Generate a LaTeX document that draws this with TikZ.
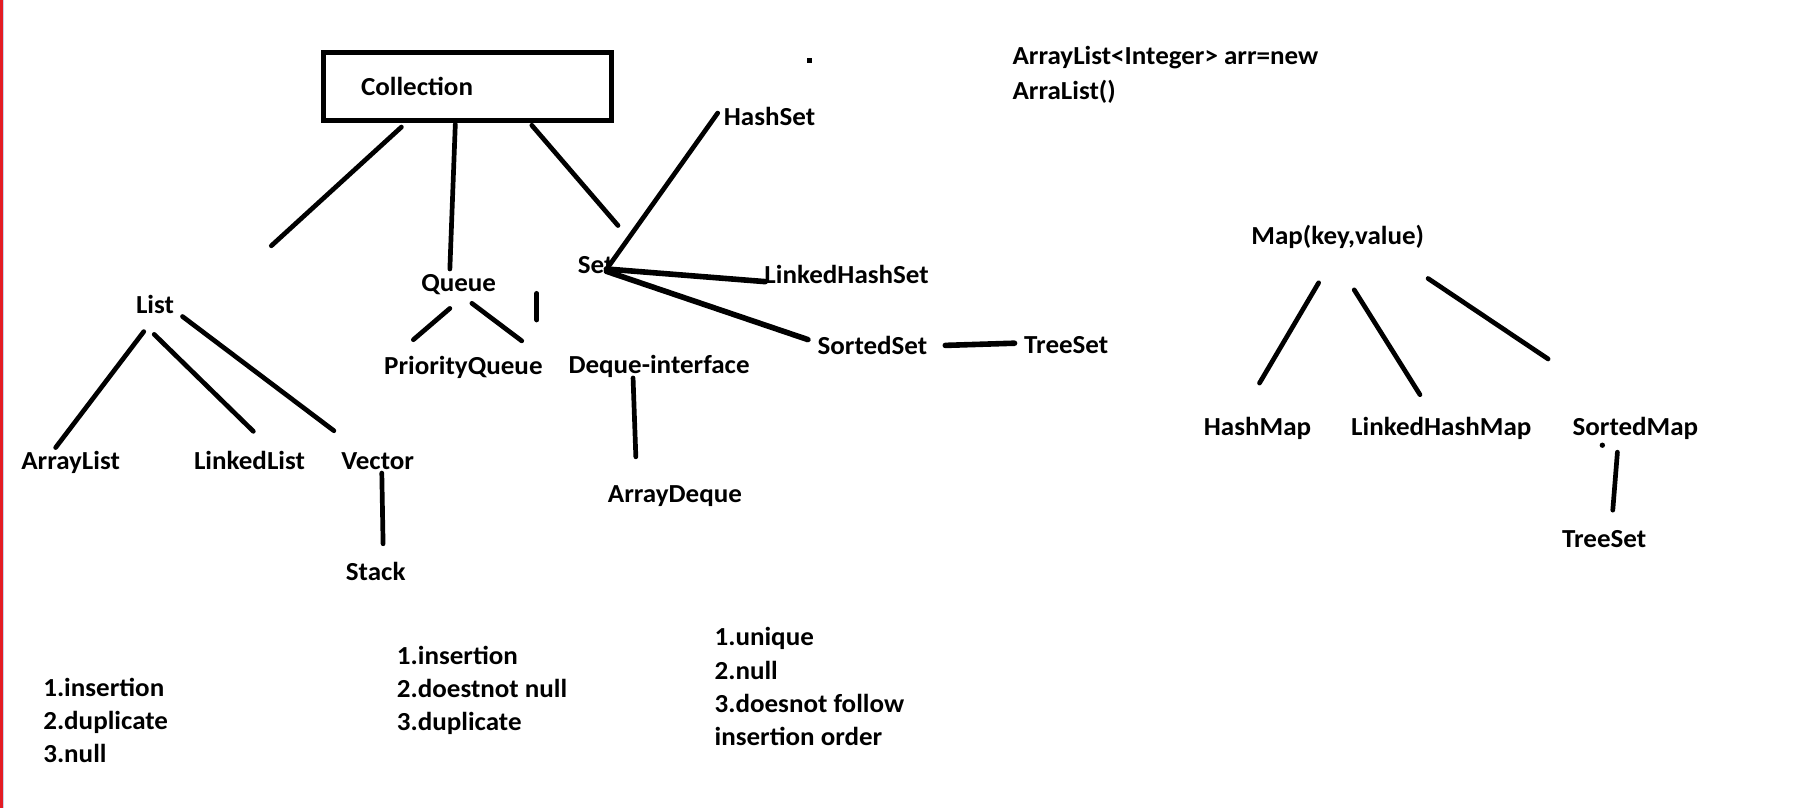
\documentclass[tikz,border=0pt]{standalone}
\usepackage{fontspec}
\setmainfont{Carlito}[FakeStretch=1.04]
\usetikzlibrary{calc}

\definecolor{margred}{RGB}{227,28,36}
\definecolor{margblue}{RGB}{200,210,235}

\begin{document}
\begin{tikzpicture}[
    x=0.5797pt, y=-0.5797pt,
    font=\fontsize{13}{16.6}\selectfont\bfseries,
    lbl/.style={anchor=base west, inner sep=0pt},
    notes/.style={anchor=base west, inner sep=0pt, align=left},
    edge/.style={line width=2.35pt, line cap=round},
    heavy/.style={line width=2.8pt, line cap=round},
    collbox/.style={
      draw, line width=2.5pt, minimum width=144pt, minimum height=34pt,
      inner xsep=18.8pt, text width=106.4pt, align=left
    }
  ]
    \useasboundingbox (0,0) rectangle (1568,697);
    % --- margen izquierdo ---
    \fill[margred] (0,0) rectangle (2.6,697);
    \fill[margblue] (2.6,0) rectangle (3.5,697);

    % --- Collection ---
    \node[collbox] (coll) at (403.2,74.6) {Collection};
    \fill (696,50) rectangle (700,54);
    \node[notes, font=\fontsize{13}{17.4}\selectfont\bfseries] (code)
      at (873,86) {ArrayList<Integer> arr=new\\ArraList()};

    % --- List ---
    \node[lbl] (list) at (117,270) {List};
    \node[lbl] (alist) at (18,405) {ArrayList};
    \node[lbl] (llist) at (167,405) {LinkedList};
    \node[lbl] (vector) at (294,405) {Vector};
    \node[lbl] (stack) at (298,501) {Stack};

    % --- Queue ---
    \node[lbl] (queue) at (363,251) {Queue};
    \node[lbl] (pqueue) at (331,323) {PriorityQueue};
    \node[lbl] (deque) at (490,322) {Deque-interface};
    \node[lbl] (adeque) at (524,433) {ArrayDeque};

    % --- Set ---
    \node[lbl] (set) at (498,236) {Set};
    \node[lbl] (hset) at (624,108.5) {HashSet};
    \node[lbl] (lhset) at (659,244.4) {LinkedHashSet};
    \node[lbl] (sset) at (704.8,305.4) {SortedSet};
    \node[lbl] (tset) at (883,305) {TreeSet};

    % --- Map ---
    \node[lbl] (map) at (1079,211) {Map(key,value)};
    \node[lbl] (hmap) at (1038,376) {HashMap};
    \node[lbl] (lhmap) at (1165,376) {LinkedHashMap};
    \node[lbl] (smap) at (1356,376) {SortedMap};
    \node[lbl] (tset2) at (1347,472) {TreeSet};

    % --- Notas ---
    \node[notes] (listnote) at (37,658)
      {1.insertion\\2.duplicate\\3.null};
    \node[notes] (queuenote) at (342,630)
      {1.insertion\\2.doestnot null\\3.duplicate};
    \node[notes] (setnote) at (616,643)
      {1.unique\\2.null\\3.doesnot follow\\insertion order};

    % --- Lineas ---
    \draw[edge] ($(coll.center)+(-57,35)$) -- ($(list.base west)+(117,-58)$);
    \draw[edge] ($(coll.center)+(-10.5,32.5)$) -- ($(queue.base west)+(25,-19)$);
    \draw[edge] ($(coll.center)+(55.5,33.5)$) -- ($(set.base west)+(35,-41.5)$);

    \draw[edge] ($(hset.base west)+(-5,-11)$) -- ($(set.base west)+(26,-5)$);
    \draw[heavy] ($(set.base west)+(25,-4)$) -- ($(lhset.base west)+(1,-1.5)$);
    \draw[heavy] ($(set.base west)+(25,-2)$) -- ($(sset.base west)+(-8,-12.5)$);
    \draw[heavy] ($(sset.base west)+(110.5,-7.5)$) -- ($(tset.base west)+(-8,-9)$);

    \draw[edge] ($(queue.base west)+(25,15)$) -- ($(pqueue.base west)+(25.5,-30)$);
    \draw[edge] ($(queue.base west)+(44,10.6)$) -- ($(pqueue.base west)+(119,-29)$);
    \draw[edge] ($(queue.base west)+(100,2)$) -- ++(0,23);
    \draw[edge] ($(deque.base west)+(56,4)$) -- ($(adeque.base west)+(24.4,-39)$);

    \draw[edge] ($(list.base west)+(7,16)$) -- ($(alist.base west)+(30,-19)$);
    \draw[edge] ($(list.base west)+(16,18.4)$) -- ($(llist.base west)+(51.5,-33)$);
    \draw[edge] ($(list.base west)+(40.4,3)$) -- ($(vector.base west)+(-6,-33.5)$);
    \draw[edge] ($(vector.base west)+(35.3,3)$) -- ($(stack.base west)+(32.4,-32)$);

    \draw[edge] ($(map.base west)+(58.3,32.9)$) -- ($(hmap.base west)+(48.3,-45.6)$);
    \draw[edge] ($(map.base west)+(89,39)$) -- ($(lhmap.base west)+(59.7,-35.6)$);
    \draw[edge] ($(map.base west)+(152.7,29.2)$) -- ($(smap.base west)+(-20.8,-66.4)$);
    \draw[edge] ($(smap.base west)+(39,14)$) -- ($(tset2.base west)+(44,-32)$);
    \fill ($(smap.base west)+(26,8)$) circle (2.3);
  \end{tikzpicture}
\end{document}
